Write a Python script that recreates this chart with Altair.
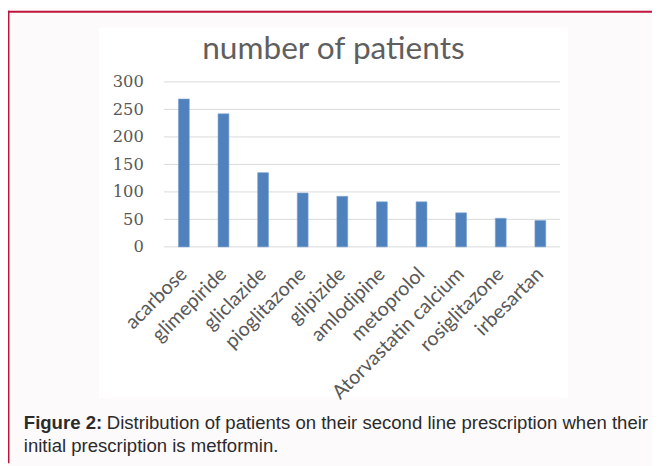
import altair as alt
import pandas as pd

# ---- data ----
drugs = ["acarbose", "glimepiride", "gliclazide", "pioglitazone", "glipizide",
         "amlodipine", "metoprolol", "Atorvastatin calcium", "rosiglitazone", "irbesartan"]
patients = [269, 242, 135, 98, 92, 82, 82, 62, 52, 48]
y_ticks = [0, 50, 100, 150, 200, 250, 300]

title_text = "number of patients"
caption_bold = "Figure 2:"
caption_line1 = "Distribution of patients on their second line prescription when their"
caption_line2 = "initial prescription is metformin."

df = pd.DataFrame({"drug": drugs, "patients": patients})
grid_df = pd.DataFrame({"v": y_ticks})

PW, PH = 401, 167          # plot area
PL, PT = 158, 72           # padding left / top (chart coords)
TOTAL_W, TOTAL_H = 652, 458

one = alt.Data(values=[{"a": 1}])

yscale = alt.Scale(domain=[0, 300], nice=False)
xscale = alt.Scale(domain=drugs, paddingInner=0, paddingOuter=0)

yaxis = alt.Axis(title=None, ticks=False, domain=False, grid=False, zindex=1,
                 values=y_ticks, labelPadding=21,
                 labelFont="DejaVu Serif", labelFontSize=16.5, labelColor="#595959")
xaxis = alt.Axis(title=None, ticks=False, domain=False, labelAngle=-45, zindex=1,
                 labelAlign="right", labelBaseline="middle", labelPadding=24,
                 labelFont="Lato", labelFontSize=20, labelColor="#595959",
                 labelOverlap=False, labelLimit=400)

# white chart-area panel
panel = alt.Chart(one).mark_rect(color="white").encode(
    x=alt.value(100 - 8 - PL), x2=alt.value(575 - 8 - PL),
    y=alt.value(25 - 8 - PT), y2=alt.value(400 - 8 - PT),
)

# frame lines
top_line = alt.Chart(one).mark_rule(color="#C0143C", strokeWidth=2).encode(
    x=alt.value(-PL), x2=alt.value(TOTAL_W - PL),
    y=alt.value(1 - PT),
)
left_line = alt.Chart(one).mark_rule(color="#C0143C", strokeWidth=1.5).encode(
    x=alt.value(0.75 - PL),
    y=alt.value(0 - PT), y2=alt.value(TOTAL_H - PT),
)

grid = alt.Chart(grid_df).mark_rule(color="#D9D9D9", strokeWidth=1).encode(
    y=alt.Y("v:Q", scale=yscale, axis=yaxis),
    x=alt.value(0), x2=alt.value(PW),
)

bars = alt.Chart(df).mark_bar(size=11, color="#4F81BD", stroke="#7FA3D3", strokeWidth=0.6).encode(
    x=alt.X("drug:N", scale=xscale, sort=drugs, axis=xaxis),
    y=alt.Y("patients:Q", scale=yscale, axis=yaxis),
)

title = alt.Chart(one).mark_text(
    text=title_text, font="Lato", fontSize=32, color="#5F5F5F",
    align="center", baseline="alphabetic",
).encode(x=alt.value(337.5 - 8 - PL), y=alt.value(57 - 8 - PT))

CAP_FS = 18.8
cap_b = alt.Chart(one).mark_text(
    text=caption_bold, font="Liberation Sans", fontSize=CAP_FS, fontWeight="bold", color="#2B2B2B",
    align="left", baseline="alphabetic",
).encode(x=alt.value(24 - 8 - PL), y=alt.value(431 - 8 - PT))

cap_1 = alt.Chart(one).mark_text(
    text=caption_line1, font="Liberation Sans", fontSize=CAP_FS, color="#2B2B2B",
    align="left", baseline="alphabetic",
).encode(x=alt.value(108 - 8 - PL), y=alt.value(431 - 8 - PT))

cap_2 = alt.Chart(one).mark_text(
    text=caption_line2, font="Liberation Sans", fontSize=CAP_FS, color="#2B2B2B",
    align="left", baseline="alphabetic",
).encode(x=alt.value(24 - 8 - PL), y=alt.value(455 - 8 - PT))

chart = alt.layer(panel, top_line, left_line, grid, bars, title, cap_b, cap_1, cap_2).properties(
    width=PW, height=PH,
    autosize=alt.AutoSizeParams(type="none"),
    padding={"left": PL, "top": PT, "right": TOTAL_W - PL - PW, "bottom": TOTAL_H - PT - PH},
    background="#FCFAFB",
).configure_view(stroke=None)

chart.save("out.html", embed_options={"renderer": "svg", "actions": False})
